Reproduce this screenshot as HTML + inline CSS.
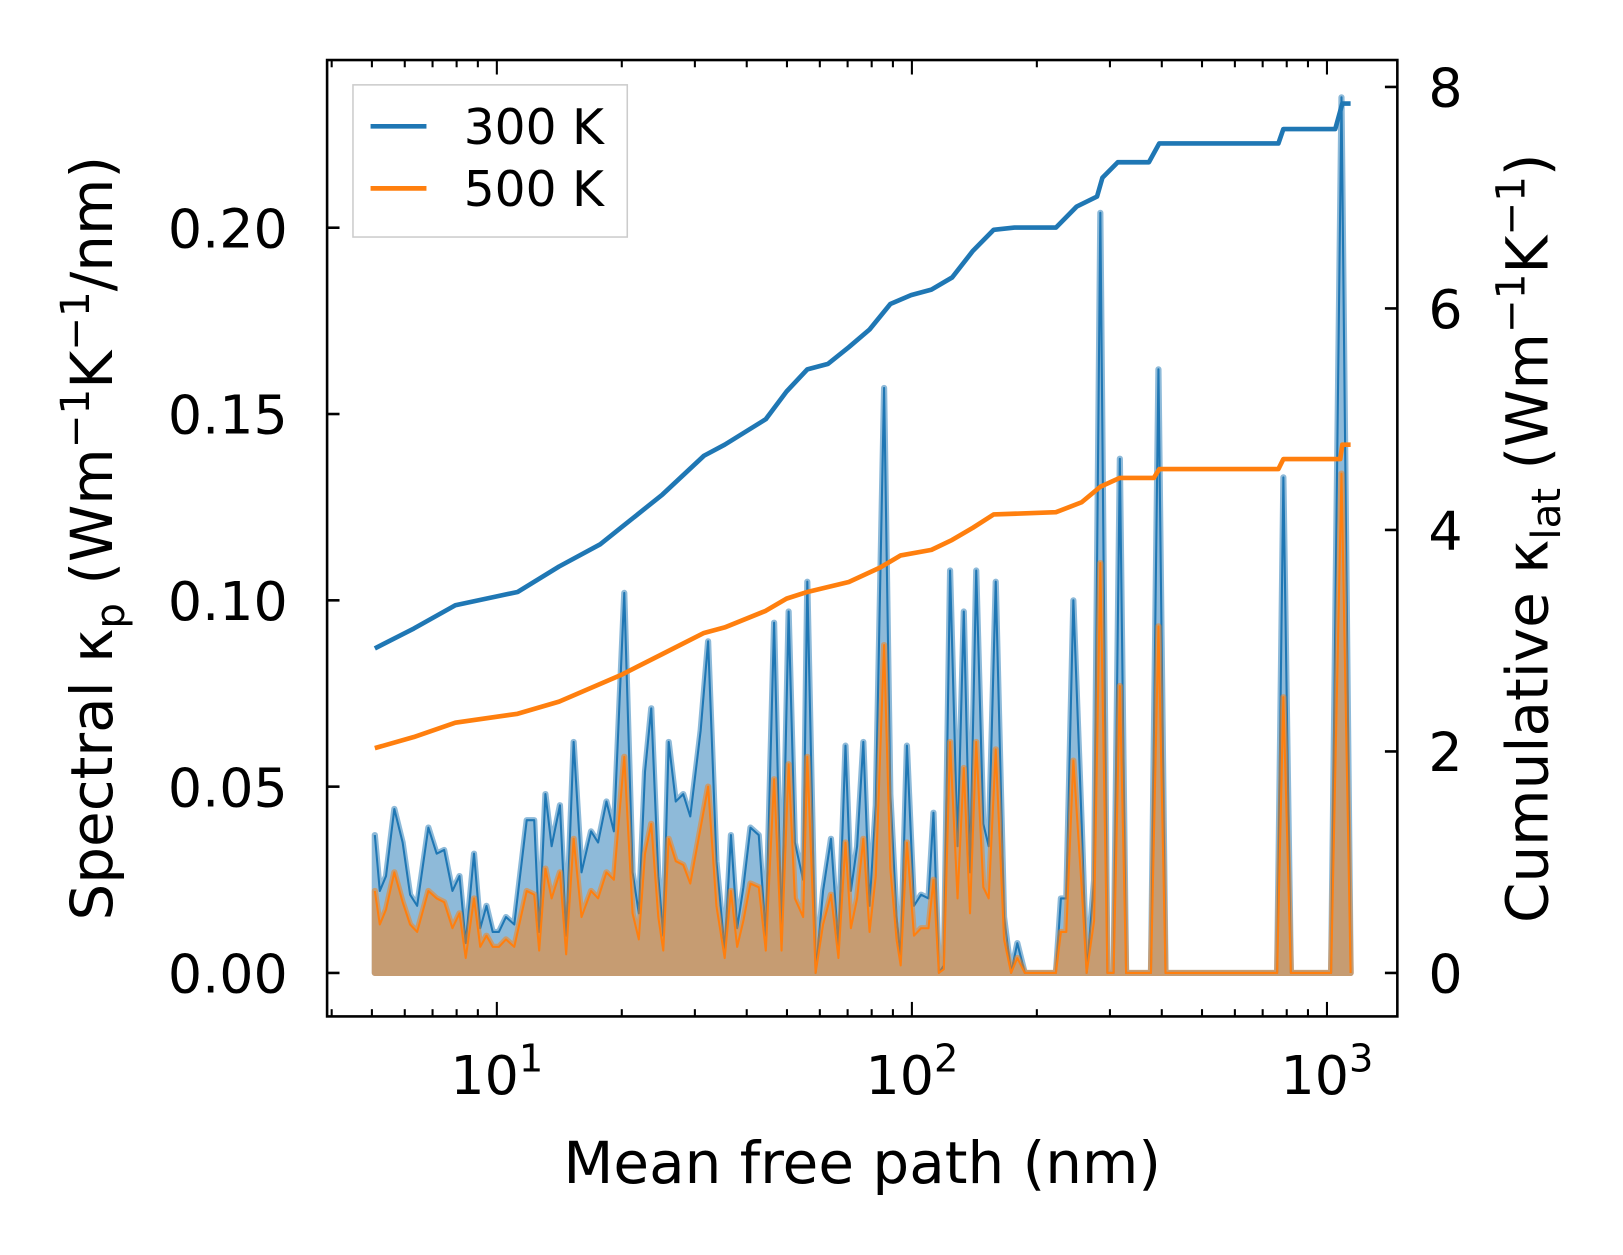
<!DOCTYPE html>
<html><head><meta charset="utf-8"><style>
html,body{margin:0;padding:0;background:#fff;}
svg{display:block;font-family:"DejaVu Sans","Liberation Sans",sans-serif;}
</style></head><body>
<svg id="chart" width="1623" height="1255" viewBox="0 0 1568 1212.5" xmlns="http://www.w3.org/2000/svg">
<rect x="0" y="0" width="1568" height="1212.5" fill="#fff"/>
<g id="plot"></g>
<g id="axes"></g>
<text x="833" y="1143" font-size="56" text-anchor="middle">Mean free path (nm)</text>
<text transform="translate(108,520) rotate(-90)" font-size="56" text-anchor="middle">Spectral κ<tspan font-size="39" dy="12">p</tspan><tspan dy="-12"> (Wm</tspan><tspan font-size="39" dy="-22">−1</tspan><tspan dy="22">K</tspan><tspan font-size="39" dy="-22">−1</tspan><tspan dy="22">/nm)</tspan></text>
<text transform="translate(1495,520) rotate(-90)" font-size="56" text-anchor="middle">Cumulative κ<tspan font-size="39" dy="12">lat</tspan><tspan dy="-12"> (Wm</tspan><tspan font-size="39" dy="-22">−1</tspan><tspan dy="22">K</tspan><tspan font-size="39" dy="-22">−1</tspan><tspan dy="22">)</tspan></text>
<g>
<rect x="341" y="82" width="265" height="147" fill="#fff" fill-opacity="0.8" stroke="#ccc" stroke-width="1.5"/>
<line x1="358" y1="122" x2="412" y2="122" stroke="#1f77b4" stroke-width="4.5"/>
<text x="448" y="139" font-size="47">300 K</text>
<line x1="358" y1="182" x2="412" y2="182" stroke="#ff7f0e" stroke-width="4.5"/>
<text x="448" y="199" font-size="47">500 K</text>
</g>
</svg>
<script>
// Spectral data: log10(MFP in nm) and values (W m^-1 K^-1 / nm)
const specLogMfp = [0.706,0.718,0.733,0.753,0.773,0.791,0.808,0.835,0.855,0.873,0.893,0.910,0.925,0.945,0.960,0.975,0.990,1.005,1.022,1.042,1.072,1.090,1.102,1.117,1.132,1.152,1.167,1.185,1.204,1.227,1.244,1.264,1.282,1.307,1.327,1.342,1.357,1.372,1.389,1.401,1.414,1.431,1.449,1.466,1.491,1.509,1.529,1.549,1.564,1.579,1.594,1.611,1.631,1.648,1.668,1.686,1.703,1.718,1.738,1.748,1.768,1.786,1.805,1.823,1.840,1.853,1.868,1.883,1.898,1.913,1.933,1.948,1.963,1.973,1.988,2.005,2.022,2.040,2.052,2.065,2.077,2.092,2.110,2.125,2.140,2.155,2.172,2.185,2.202,2.222,2.239,2.254,2.272,2.347,2.359,2.372,2.389,2.409,2.421,2.439,2.454,2.471,2.486,2.501,2.516,2.576,2.594,2.611,2.880,2.895,2.913,3.010,3.035,3.057];
const spec300 = [0.037,0.022,0.026,0.044,0.035,0.021,0.018,0.039,0.032,0.033,0.022,0.026,0.008,0.032,0.012,0.018,0.011,0.011,0.015,0.013,0.041,0.041,0.011,0.048,0.034,0.045,0.010,0.062,0.027,0.038,0.035,0.046,0.038,0.102,0.027,0.016,0.054,0.071,0.026,0.010,0.062,0.046,0.048,0.042,0.065,0.089,0.030,0.006,0.037,0.012,0.023,0.039,0.037,0.010,0.094,0.010,0.097,0.035,0.025,0.105,0.000,0.022,0.036,0.007,0.061,0.022,0.034,0.062,0.018,0.045,0.157,0.048,0.015,0.004,0.061,0.018,0.021,0.020,0.043,0.000,0.002,0.108,0.034,0.097,0.027,0.108,0.040,0.034,0.105,0.015,0.000,0.008,0.000,0.000,0.020,0.020,0.100,0.040,0.000,0.025,0.204,0.000,0.000,0.138,0.000,0.000,0.162,0.000,0.000,0.133,0.000,0.000,0.235,0.000];
const spec500 = [0.022,0.013,0.017,0.027,0.019,0.013,0.011,0.022,0.020,0.019,0.012,0.016,0.004,0.020,0.007,0.010,0.007,0.007,0.009,0.007,0.022,0.021,0.006,0.028,0.020,0.027,0.005,0.036,0.015,0.022,0.020,0.027,0.025,0.058,0.016,0.009,0.032,0.040,0.015,0.006,0.036,0.030,0.029,0.024,0.039,0.050,0.018,0.004,0.022,0.007,0.014,0.024,0.023,0.006,0.052,0.006,0.056,0.020,0.015,0.058,0.000,0.013,0.021,0.004,0.035,0.012,0.020,0.036,0.011,0.026,0.088,0.028,0.009,0.002,0.035,0.010,0.012,0.012,0.025,0.000,0.001,0.062,0.020,0.055,0.016,0.062,0.023,0.020,0.060,0.009,0.000,0.004,0.000,0.000,0.011,0.011,0.057,0.023,0.000,0.014,0.110,0.000,0.000,0.077,0.000,0.000,0.093,0.000,0.000,0.074,0.000,0.000,0.134,0.000];
// Cumulative data
const cum300LogMfp = [0.706,0.800,0.900,1.000,1.050,1.150,1.249,1.299,1.399,1.499,1.549,1.648,1.698,1.748,1.798,1.848,1.898,1.948,1.998,2.047,2.097,2.147,2.197,2.247,2.347,2.397,2.446,2.459,2.496,2.571,2.596,2.883,2.895,3.020,3.037,3.057];
const cum300 = [2.93,3.11,3.32,3.40,3.44,3.67,3.87,4.02,4.32,4.67,4.77,5.00,5.25,5.45,5.50,5.65,5.81,6.04,6.12,6.17,6.28,6.52,6.71,6.73,6.73,6.92,7.01,7.18,7.32,7.32,7.49,7.49,7.62,7.62,7.85,7.85];
const cum500LogMfp = [0.706,0.800,0.900,1.050,1.150,1.299,1.399,1.499,1.549,1.648,1.698,1.748,1.848,1.923,1.973,2.047,2.097,2.147,2.197,2.347,2.409,2.454,2.501,2.583,2.596,2.883,2.895,3.032,3.037,3.057];
const cum500 = [2.03,2.13,2.26,2.34,2.45,2.69,2.88,3.07,3.12,3.27,3.38,3.44,3.53,3.66,3.77,3.82,3.91,4.02,4.14,4.16,4.25,4.39,4.47,4.47,4.55,4.55,4.64,4.64,4.77,4.77];
const leftTicks = [0,0.05,0.10,0.15,0.20];
const leftTickLabels = ["0.00","0.05","0.10","0.15","0.20"];
const rightTicks = [0,2,4,6,8];
const rightTickLabels = ["0","2","4","6","8"];
const xDecades = [1,2,3];

const L=316,R=1350,T=58,B=982;
function xs(lg){return 480+(lg-1)*401;}
function yl(v){return 940-v*3600;}
function yr(v){return 940-v*107;}
const NS="http://www.w3.org/2000/svg";
function mk(tag,attrs,parent){const e=document.createElementNS(NS,tag);for(const k in attrs)e.setAttribute(k,attrs[k]);parent.appendChild(e);return e;}
const plot=document.getElementById('plot'), axes=document.getElementById('axes');

function specSeries(vals,color,name){
  let d='M'+xs(specLogMfp[0])+','+yl(0);
  let ld='';
  vals.forEach((v,i)=>{const p=xs(specLogMfp[i])+','+yl(v);d+=' L'+p;ld+=(i?' L':'M')+p;});
  d+=' L'+xs(specLogMfp[specLogMfp.length-1])+','+yl(0)+' Z';
  const f=mk('path',{d:d,fill:color,stroke:color,'stroke-width':6,'stroke-linejoin':'round',opacity:0.5},plot);
  
  
  const l=mk('path',{d:ld,fill:'none',stroke:color,'stroke-width':2,'stroke-linejoin':'round'},plot);
  
  
}
specSeries(spec300,'#1f77b4','spectral-300k');
specSeries(spec500,'#ff7f0e','spectral-500k');

function cumSeries(lx,vals,color,name){
  let d='';vals.forEach((v,i)=>{d+=(i?' L':'M')+xs(lx[i])+','+yr(v);});
  const l=mk('path',{d:d,fill:'none',stroke:color,'stroke-width':4.5,'stroke-linejoin':'round'},plot);
  
  
}
cumSeries(cum300LogMfp,cum300,'#1f77b4','cumulative-300k');
cumSeries(cum500LogMfp,cum500,'#ff7f0e','cumulative-500k');

const frame=mk('rect',{x:L,y:T,width:R-L,height:B-T,fill:'none',stroke:'#000','stroke-width':2.5},axes);



leftTicks.forEach((v,i)=>{
  const y=yl(v);
  mk('line',{x1:L,y1:y,x2:L+12,y2:y,stroke:'#000','stroke-width':2.5},axes);
  const t=mk('text',{x:L-38,y:y+19,'font-size':52,'text-anchor':'end'},axes);
  t.textContent=leftTickLabels[i];
  
  
});
rightTicks.forEach((v,i)=>{
  const y=yr(v);
  mk('line',{x1:R,y1:y,x2:R-12,y2:y,stroke:'#000','stroke-width':2.5},axes);
  const t=mk('text',{x:R+30,y:y+19,'font-size':52,'text-anchor':'start'},axes);
  t.textContent=rightTickLabels[i];
  
  
});
for(let dec=0;dec<=3;dec++){
  for(let m=1;m<=9;m++){
    const lg=dec+Math.log10(m);const x=xs(lg);
    if(x<L||x>R)continue;
    const len=m===1?14:7;
    mk('line',{x1:x,y1:B,x2:x,y2:B-len,stroke:'#000','stroke-width':2},axes);
    mk('line',{x1:x,y1:T,x2:x,y2:T+len,stroke:'#000','stroke-width':2},axes);
  }
}
xDecades.forEach(d=>{
  const t=mk('text',{x:xs(d),y:1057,'font-size':52,'text-anchor':'middle'},axes);
  
  
  t.textContent='10';
  const s=mk('tspan',{'font-size':37,dy:-22},t);s.textContent=String(d);
});
</script>
</body></html>
